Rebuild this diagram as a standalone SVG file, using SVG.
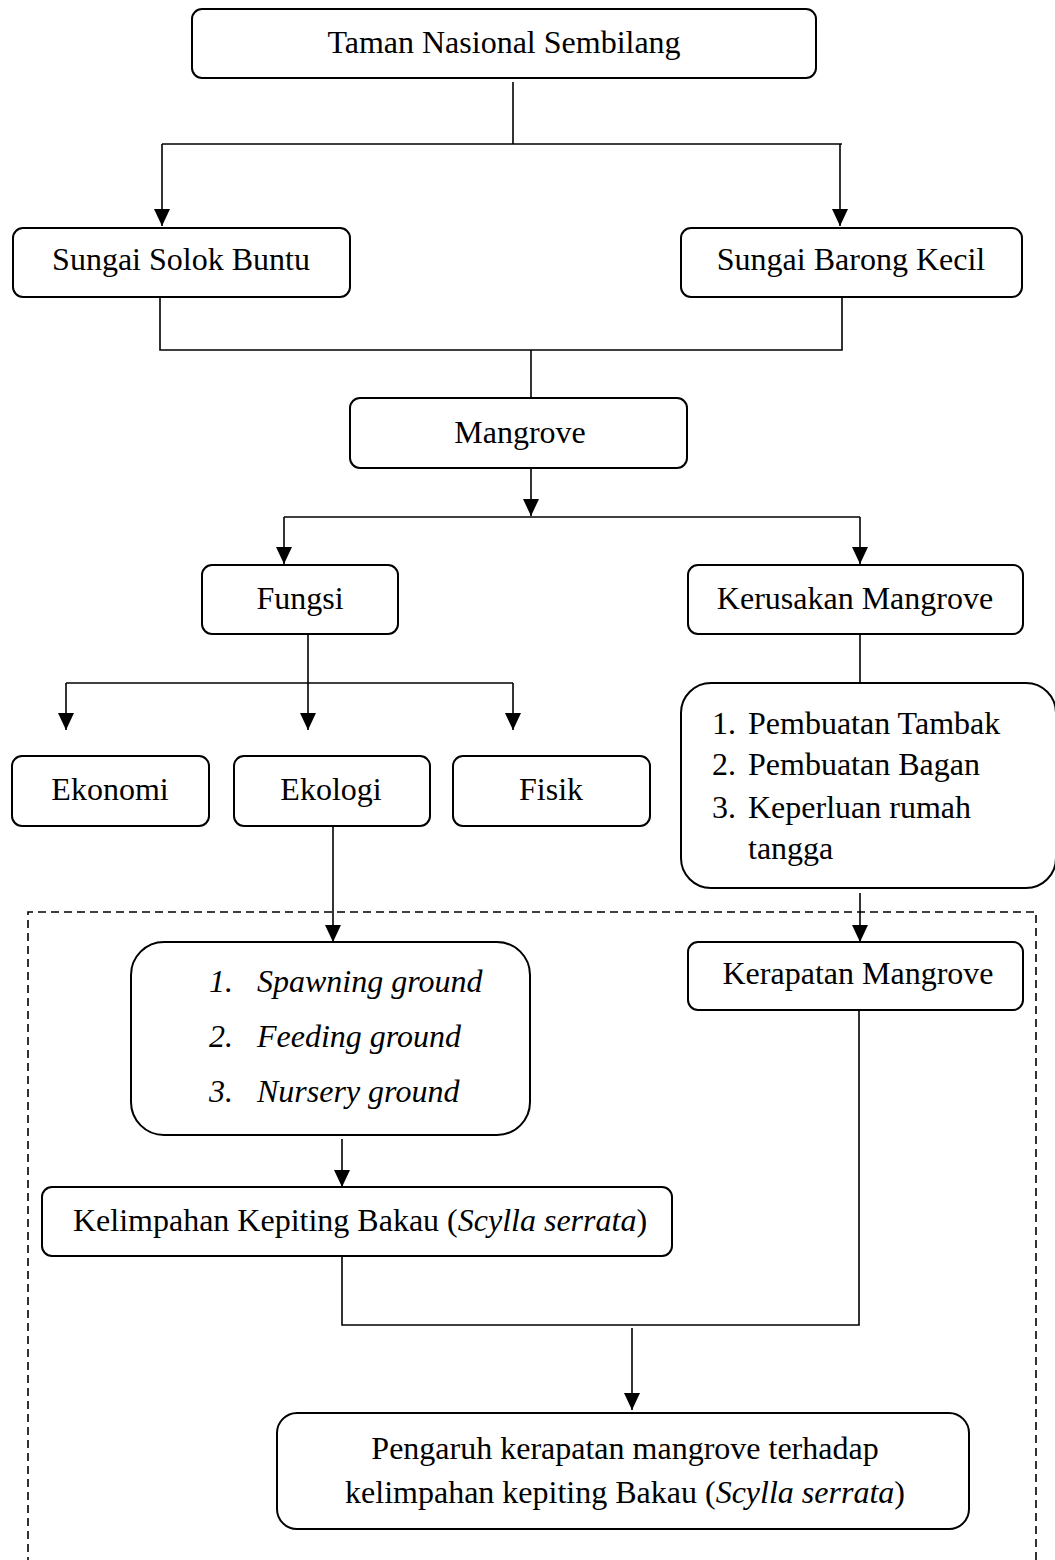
<svg xmlns="http://www.w3.org/2000/svg" width="1055" height="1560" viewBox="0 0 1055 1560">
<style>
  .box { fill: #fff; stroke: #000; stroke-width: 2; }
  .ln { fill: none; stroke: #000; stroke-width: 1.6; }
  .t { font-family: "Liberation Serif", "Times New Roman", serif; font-size: 32px; fill: #000; }
  .c { text-anchor: middle; }
  .i { font-style: italic; }
  .dash { fill: none; stroke: #000; stroke-width: 1.6; stroke-dasharray: 8 5; }
</style>
<defs>
  <marker id="arr" markerUnits="userSpaceOnUse" markerWidth="17" markerHeight="16" refX="17" refY="8" orient="auto" viewBox="0 0 17 16">
    <path d="M0,0 L17,8 L0,16 Z" fill="#000"/>
  </marker>
</defs>
<rect width="1055" height="1560" fill="#fff"/>

<g id="boundary">
  <path class="dash" d="M28,1565 L28,912 L1036,912 L1036,1565"/>
</g>

<g id="connectors">
  <path class="ln" d="M513,82 L513,144"/>
  <path class="ln" d="M162,144 L842,144"/>
  <path class="ln" d="M162,144 L162,226" marker-end="url(#arr)"/>
  <path class="ln" d="M840,144 L840,226" marker-end="url(#arr)"/>
  <path class="ln" d="M160,297 L160,350 L842,350 L842,297"/>
  <path class="ln" d="M531,350 L531,398"/>
  <path class="ln" d="M531,468 L531,516" marker-end="url(#arr)"/>
  <path class="ln" d="M284,517 L860,517"/>
  <path class="ln" d="M284,517 L284,564" marker-end="url(#arr)"/>
  <path class="ln" d="M860,517 L860,564" marker-end="url(#arr)"/>
  <path class="ln" d="M308,634 L308,683"/>
  <path class="ln" d="M66,683 L513,683"/>
  <path class="ln" d="M66,683 L66,730" marker-end="url(#arr)"/>
  <path class="ln" d="M308,683 L308,730" marker-end="url(#arr)"/>
  <path class="ln" d="M513,683 L513,730" marker-end="url(#arr)"/>
  <path class="ln" d="M860,634 L860,683"/>
  <path class="ln" d="M333,826 L333,942" marker-end="url(#arr)"/>
  <path class="ln" d="M860,893 L860,942" marker-end="url(#arr)"/>
  <path class="ln" d="M342,1139 L342,1187" marker-end="url(#arr)"/>
  <path class="ln" d="M342,1256 L342,1325 L859,1325 L859,1010"/>
  <path class="ln" d="M632,1328 L632,1410" marker-end="url(#arr)"/>
</g>

<g id="node-taman">
  <rect class="box" x="192" y="9" width="624" height="69" rx="10"/>
  <text class="t c" x="504" y="53">Taman Nasional Sembilang</text>
</g>
<g id="node-solok">
  <rect class="box" x="13" y="228" width="337" height="69" rx="10"/>
  <text class="t c" x="181" y="270">Sungai Solok Buntu</text>
</g>
<g id="node-barong">
  <rect class="box" x="681" y="228" width="341" height="69" rx="10"/>
  <text class="t c" x="851" y="270">Sungai Barong Kecil</text>
</g>
<g id="node-mangrove">
  <rect class="box" x="350" y="398" width="337" height="70" rx="10"/>
  <text class="t c" x="520" y="443">Mangrove</text>
</g>
<g id="node-fungsi">
  <rect class="box" x="202" y="565" width="196" height="69" rx="10"/>
  <text class="t c" x="300" y="609">Fungsi</text>
</g>
<g id="node-kerusakan">
  <rect class="box" x="688" y="565" width="335" height="69" rx="10"/>
  <text class="t c" x="855" y="609">Kerusakan Mangrove</text>
</g>
<g id="node-ekonomi">
  <rect class="box" x="12" y="756" width="197" height="70" rx="10"/>
  <text class="t c" x="110" y="800">Ekonomi</text>
</g>
<g id="node-ekologi">
  <rect class="box" x="234" y="756" width="196" height="70" rx="10"/>
  <text class="t c" x="331" y="800">Ekologi</text>
</g>
<g id="node-fisik">
  <rect class="box" x="453" y="756" width="197" height="70" rx="10"/>
  <text class="t c" x="551" y="800">Fisik</text>
</g>
<g id="node-penyebab">
  <rect class="box" x="681" y="683" width="375" height="205" rx="30"/>
  <text class="t" x="712" y="734">1.</text>
  <text class="t" x="748" y="734">Pembuatan Tambak</text>
  <text class="t" x="712" y="775">2.</text>
  <text class="t" x="748" y="775">Pembuatan Bagan</text>
  <text class="t" x="712" y="818">3.</text>
  <text class="t" x="748" y="818">Keperluan rumah</text>
  <text class="t" x="748" y="859">tangga</text>
</g>
<g id="node-fungsi-ekologi">
  <rect class="box" x="131" y="942" width="399" height="193" rx="33"/>
  <text class="t i" x="209" y="992">1.</text>
  <text class="t i" x="257" y="992">Spawning ground</text>
  <text class="t i" x="209" y="1047">2.</text>
  <text class="t i" x="257" y="1047">Feeding ground</text>
  <text class="t i" x="209" y="1102">3.</text>
  <text class="t i" x="257" y="1102">Nursery ground</text>
</g>
<g id="node-kerapatan">
  <rect class="box" x="688" y="942" width="335" height="68" rx="10"/>
  <text class="t c" x="858" y="984">Kerapatan Mangrove</text>
</g>
<g id="node-kelimpahan">
  <rect class="box" x="42" y="1187" width="630" height="69" rx="10"/>
  <text class="t c" x="360" y="1231">Kelimpahan Kepiting Bakau (<tspan class="i">Scylla serrata</tspan>)</text>
</g>
<g id="node-pengaruh">
  <rect class="box" x="277" y="1413" width="692" height="116" rx="20"/>
  <text class="t c" x="625" y="1459">Pengaruh kerapatan mangrove terhadap</text>
  <text class="t c" x="625" y="1503">kelimpahan kepiting Bakau (<tspan class="i">Scylla serrata</tspan>)</text>
</g>
</svg>
